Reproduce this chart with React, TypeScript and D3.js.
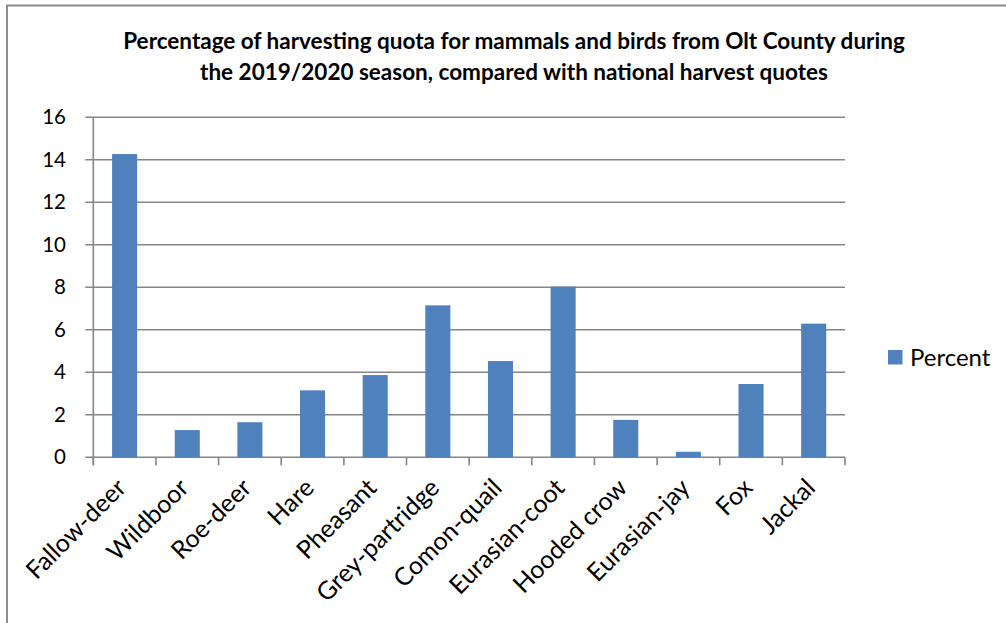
import * as d3 from 'd3';
import React, { useRef, useEffect } from 'react';

// data
const species = [
  'Fallow-deer', 'Wildboor', 'Roe-deer', 'Hare', 'Pheasant', 'Grey-partridge',
  'Comon-quail', 'Eurasian-coot', 'Hooded crow', 'Eurasian-jay', 'Fox', 'Jackal'
];
const percent = [14.27, 1.28, 1.65, 3.15, 3.87, 7.15, 4.53, 8.03, 1.76, 0.26, 3.45, 6.29];
const yTicks = [0, 2, 4, 6, 8, 10, 12, 14, 16];
const titleLines = [
  'Percentage of harvesting quota for mammals and birds from Olt County during',
  'the 2019/2020 season, compared with national harvest quotes'
];
const seriesName = 'Percent';

const width = 1006;
const height = 623;
const font = 'Lato, "Open Sans", sans-serif';

function App() {
  const svgRef = useRef<SVGSVGElement>(null);

  useEffect(() => {
    document.body.style.margin = '0';

    const svg = d3.select(svgRef.current);
    svg.selectAll('*').remove();

    const left = 93.3, right = 845, top = 117.3, bottom = 457.3;

    const x = d3.scaleBand<string>().domain(species).range([left, right]).padding(0);
    const y = d3.scaleLinear().domain([0, 16]).range([bottom, top]);

    // outer frame (only top and left visible in the crop)
    svg.append('path')
      .attr('d', `M7,${height + 5} L7,5.5 L${width + 5},5.5`)
      .attr('fill', 'none')
      .attr('stroke', '#8c8c8c')
      .attr('stroke-width', 2);

    // title
    svg.append('g').selectAll('text')
      .data(titleLines)
      .join('text')
      .attr('x', 514)
      .attr('y', (d, i) => 49 + i * 31)
      .attr('text-anchor', 'middle')
      .attr('font-family', font)
      .attr('font-weight', 'bold')
      .attr('font-size', 22.5)
      .attr('fill', '#000')
      .text(d => d);

    // gridlines
    svg.append('g').selectAll('line')
      .data(yTicks)
      .join('line')
      .attr('x1', left - 8)
      .attr('x2', right)
      .attr('y1', d => y(d))
      .attr('y2', d => y(d))
      .attr('stroke', '#868686')
      .attr('stroke-width', 1.6);

    // y axis line
    svg.append('line')
      .attr('x1', left).attr('x2', left)
      .attr('y1', top).attr('y2', bottom + 8)
      .attr('stroke', '#868686')
      .attr('stroke-width', 1.6);

    // y labels
    svg.append('g').selectAll('text')
      .data(yTicks)
      .join('text')
      .attr('x', 66)
      .attr('y', d => y(d))
      .attr('dy', '0.35em')
      .attr('text-anchor', 'end')
      .attr('font-family', font)
      .attr('font-size', 20.5)
      .attr('fill', '#000')
      .text(d => d);

    // x ticks at category boundaries
    const bounds = species.map(s => x(s) as number).concat([right]);
    svg.append('g').selectAll('line')
      .data(bounds)
      .join('line')
      .attr('x1', d => d).attr('x2', d => d)
      .attr('y1', bottom).attr('y2', bottom + 8)
      .attr('stroke', '#868686')
      .attr('stroke-width', 1.6);

    // bars
    const bw = x.bandwidth() * 0.4;
    svg.append('g').selectAll('rect')
      .data(percent)
      .join('rect')
      .attr('x', (d, i) => (x(species[i]) as number) + x.bandwidth() / 2 - bw / 2)
      .attr('y', d => y(d))
      .attr('width', bw)
      .attr('height', d => bottom - y(d))
      .attr('fill', '#4f81bd');

    // x labels, rotated
    svg.append('g').selectAll('text')
      .data(species)
      .join('text')
      .attr('transform', d => `translate(${(x(d) as number) + x.bandwidth() / 2 + 3},${bottom + 32}) rotate(-45)`)
      .attr('text-anchor', 'end')
      .attr('font-family', font)
      .attr('font-size', 25)
      .attr('fill', '#000')
      .text(d => d);

    // legend
    const lg = svg.append('g').attr('transform', 'translate(888,350)');
    lg.append('rect').attr('width', 14.5).attr('height', 14.5).attr('fill', '#4f81bd');
    lg.append('text')
      .attr('x', 22).attr('y', 15.5)
      .attr('font-family', font)
      .attr('font-size', 24)
      .attr('fill', '#000')
      .text(seriesName);
  }, []);

  return (
    <svg ref={svgRef} width={width} height={height} style={{ display: 'block', background: '#fff' }}></svg>
  );
}

export default App;
